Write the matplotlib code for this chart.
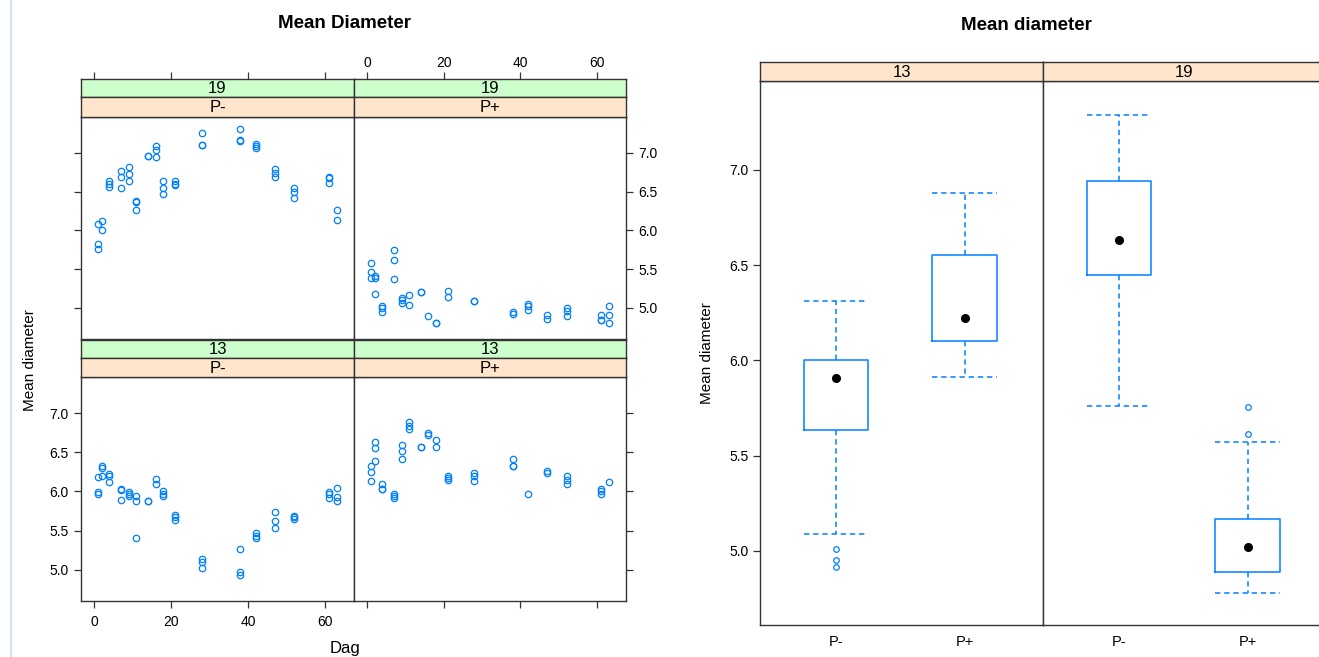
import matplotlib
matplotlib.use("Agg")
import matplotlib.pyplot as plt
from matplotlib.lines import Line2D

plt.rcParams['font.family'] = ['Liberation Sans', 'DejaVu Sans']

W, H = 1319, 657

# ---- scatter data: Dag vs mean diameter, by temperature (13/19) and P-/P+ ----
days = [1, 2, 4, 7, 9, 11, 14, 16, 18, 21, 28, 38, 42, 47, 52, 61, 63]

t19_pminus = [[6.08, 5.82, 5.76], [6.12, 6.01], [6.63, 6.60, 6.56],
              [6.77, 6.69, 6.55], [6.82, 6.73, 6.64], [6.38, 6.36, 6.26],
              [6.96, 6.96], [7.08, 7.04, 6.95], [6.64, 6.55, 6.47],
              [6.63, 6.60, 6.58], [7.25, 7.10, 7.10], [7.30, 7.17, 7.15],
              [7.11, 7.09, 7.06], [6.79, 6.74, 6.69], [6.55, 6.50, 6.42],
              [6.69, 6.67, 6.61], [6.26, 6.13]]
t19_pplus = [[5.58, 5.46, 5.39], [5.41, 5.39, 5.18], [5.03, 5.00, 4.95],
             [5.75, 5.62, 5.37], [5.13, 5.10, 5.06], [5.17, 5.04],
             [5.20, 5.20], [4.89], [4.80, 4.80], [5.22, 5.14],
             [5.09, 5.09], [4.95, 4.92], [5.05, 5.02, 4.98], [4.91, 4.86],
             [5.00, 4.96, 4.89], [4.91, 4.85, 4.84], [5.02, 4.91, 4.81]]
t13_pminus = [[6.18, 5.99, 5.96], [6.32, 6.30, 6.20], [6.22, 6.19, 6.12],
              [6.03, 6.02, 5.89], [5.99, 5.97, 5.94], [5.94, 5.88, 5.41],
              [5.88, 5.88], [6.16, 6.09], [6.00, 5.97, 5.94],
              [5.70, 5.67, 5.64], [5.13, 5.10, 5.02], [5.26, 4.97, 4.93],
              [5.47, 5.43, 5.40], [5.73, 5.62, 5.53], [5.69, 5.67, 5.65],
              [5.99, 5.97, 5.91], [6.04, 5.93, 5.88]]
t13_pplus = [[6.33, 6.25, 6.13], [6.63, 6.55, 6.39], [6.09, 6.03, 6.03],
             [5.97, 5.94, 5.91], [6.59, 6.52, 6.41], [6.88, 6.84, 6.79],
             [6.57, 6.57], [6.74, 6.72], [6.65, 6.56], [6.20, 6.17, 6.14],
             [6.24, 6.20, 6.13], [6.41, 6.32, 6.32], [5.96], [6.26, 6.23],
             [6.19, 6.14, 6.10], [6.03, 6.00, 5.97], [6.12]]

# ---- box plot summaries ----
box_temps = ['13', '19']
box_groups = ['P-', 'P+']
box_whislo = [[5.09, 5.91], [5.76, 4.78]]
box_q1 = [[5.635, 6.10], [6.45, 4.89]]
box_med = [[5.905, 6.22], [6.63, 5.02]]
box_q3 = [[6.00, 6.555], [6.94, 5.165]]
box_whishi = [[6.31, 6.88], [7.29, 5.57]]
box_fliers = [[[5.01, 4.95, 4.915], []], [[], [5.755, 5.615]]]

BLUE = '#0080ff'
ORANGE = '#ffe5cc'
GREEN = '#ccffcc'
FRAME = '#333333'


def rect(x0, y0, x1, y1):
    return [x0 / W, 1 - y1 / H, (x1 - x0) / W, (y1 - y0) / H]


def strip(fig, box, label, color, xlim=None):
    sa = fig.add_axes(rect(*box))
    sa.set_facecolor(color)
    sa.set_ylim(0, 1)
    if xlim is not None:
        sa.set_xlim(*xlim)
    sa.set_yticks([])
    sa.set_xticks([])
    for s in sa.spines.values():
        s.set_color(FRAME)
        s.set_linewidth(1)
    sa.text(0.5, 0.45, label, ha='center', va='center', fontsize=12,
            transform=sa.transAxes)
    return sa


fig = plt.figure(figsize=(W / 100, H / 100), dpi=100)

# faint vertical line at left edge
fig.add_artist(Line2D([11 / W, 11 / W], [0, 1], color='#c9dcf3', lw=1.2))

# ---------------- left chart: xyplot ----------------
cols = [(81, 354), (354, 626)]
rows = {'top': dict(plot=(117, 339), green=(79, 97), orange=(97, 117)),
        'bottom': dict(plot=(377, 601), green=(340, 358), orange=(358, 377))}
panels = [('top', 0, '19', 'P-', t19_pminus), ('top', 1, '19', 'P+', t19_pplus),
          ('bottom', 0, '13', 'P-', t13_pminus), ('bottom', 1, '13', 'P+', t13_pplus)]

xlim = (-3.4, 67.5)
ylim = (4.6, 7.46)
xt = [0, 20, 40, 60]
yt = [5.0, 5.5, 6.0, 6.5, 7.0]

for row, ci, temp, grp, vals in panels:
    x0, x1 = cols[ci]
    r = rows[row]
    ax = fig.add_axes(rect(x0, r['plot'][0], x1, r['plot'][1]))
    for d, vv in zip(days, vals):
        ax.plot([d] * len(vv), vv, 'o', ms=4.6, mfc='none', mec=BLUE, mew=0.9)
    ax.set_xlim(*xlim)
    ax.set_ylim(*ylim)
    for s in ax.spines.values():
        s.set_color(FRAME)
        s.set_linewidth(1)
    ax.set_yticks(yt)
    ax.set_yticklabels([f'{v:.1f}' for v in yt])
    ax.set_xticks(xt)
    ax.tick_params(direction='out', length=5, width=0.9, labelsize=10,
                   color=FRAME, pad=4)
    if row == 'top':
        ax.tick_params(axis='x', bottom=False, labelbottom=False)
        ax.tick_params(axis='y', left=(ci == 0), labelleft=False,
                       right=(ci == 1), labelright=(ci == 1))
        g = strip(fig, (x0, r['green'][0], x1, r['green'][1]), temp, GREEN, xlim)
        g.set_xticks(xt)
        g.tick_params(axis='x', top=True, bottom=False, labelbottom=False,
                      labeltop=(ci == 1), direction='out', length=5,
                      width=0.9, labelsize=10, color=FRAME, pad=1.5)
    else:
        ax.tick_params(axis='x', bottom=True, labelbottom=(ci == 0), pad=5)
        ax.tick_params(axis='y', left=(ci == 0), labelleft=(ci == 0),
                       right=(ci == 1), labelright=False)
        strip(fig, (x0, r['green'][0], x1, r['green'][1]), temp, GREEN)
    strip(fig, (x0, r['orange'][0], x1, r['orange'][1]), grp, ORANGE)

fig.text(345 / W, 1 - 23 / H, 'Mean Diameter', ha='center', va='center',
         fontsize=13.5, fontweight='bold')
fig.text(345 / W, 1 - 649 / H, 'Dag', ha='center', va='center', fontsize=12)
fig.text(30 / W, 1 - 360 / H, 'Mean diameter', ha='center', va='center',
         fontsize=11, rotation=90)

# ---------------- right chart: bwplot ----------------
bcols = [(760, 1043), (1043, 1326)]
for ti, temp in enumerate(box_temps):
    x0, x1 = bcols[ti]
    ax = fig.add_axes(rect(x0, 81, x1, 625))
    stats = []
    for gi, grp in enumerate(box_groups):
        stats.append(dict(med=box_med[ti][gi], q1=box_q1[ti][gi],
                          q3=box_q3[ti][gi], whislo=box_whislo[ti][gi],
                          whishi=box_whishi[ti][gi],
                          fliers=box_fliers[ti][gi], label=grp))
    ax.bxp(stats, positions=[1, 2], widths=0.5, capwidths=0.5,
           boxprops=dict(color=BLUE, lw=1.1),
           whiskerprops=dict(color=BLUE, lw=1.1, ls=(0, (3.5, 2.5))),
           capprops=dict(color=BLUE, lw=1.1, ls=(0, (3.5, 2.5))),
           medianprops=dict(lw=0),
           flierprops=dict(marker='o', ms=4, mfc='none', mec=BLUE, mew=0.9))
    ax.plot([1, 2], box_med[ti], 'o', color='black', ms=5.5, zorder=5)
    ax.set_xlim(0.41, 2.61)
    ax.set_ylim(4.61, 7.467)
    for s in ax.spines.values():
        s.set_color(FRAME)
        s.set_linewidth(1)
    ax.set_xticks([1, 2])
    ax.set_xticklabels(box_groups)
    ax.set_yticks(yt)
    ax.set_yticklabels([f'{v:.1f}' for v in yt])
    ax.tick_params(axis='x', length=0, labelsize=10.5, pad=7)
    ax.tick_params(axis='y', direction='out', length=5, width=0.9,
                   labelsize=10, color=FRAME, left=(ti == 0),
                   labelleft=(ti == 0))
    strip(fig, (x0, 62, x1, 81), temp, ORANGE)

fig.text(1026 / W, 1 - 25 / H, 'Mean diameter', ha='center', va='center',
         fontsize=13.5, fontweight='bold')
fig.text(707 / W, 1 - 353 / H, 'Mean diameter', ha='center', va='center',
         fontsize=11, rotation=90)

fig.savefig('out.png', dpi=100, facecolor='white')
